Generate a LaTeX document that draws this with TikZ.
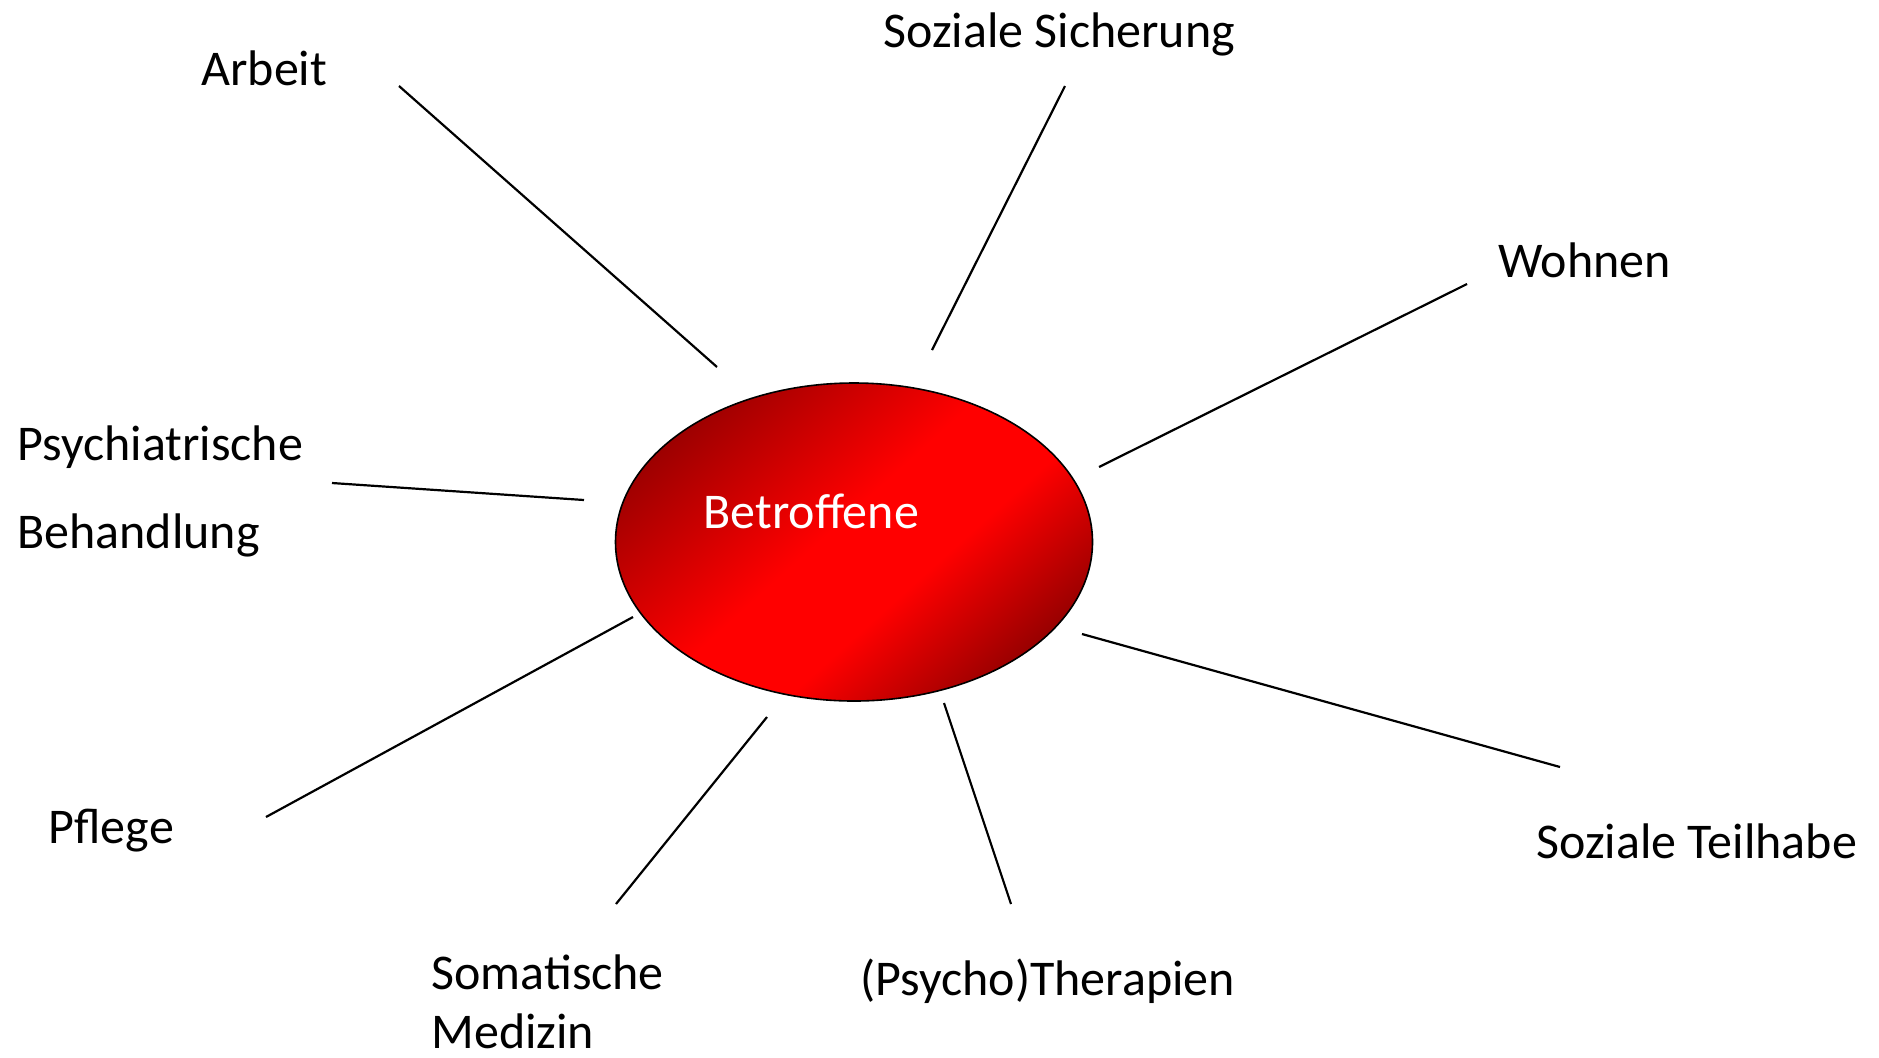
\documentclass[tikz,border=0pt]{standalone}
\usepackage{fontspec}
\setmainfont{Carlito}
\usetikzlibrary{shapes.geometric}
\pgfdeclareverticalshading{kernrot}{100bp}{rgb(0bp)=(0.6,0,0); rgb(25bp)=(0.6,0,0);
  rgb(41bp)=(1,0,0); rgb(53bp)=(1,0,0); rgb(76bp)=(0.6,0,0); rgb(100bp)=(0.6,0,0)}
\tikzset{
  feld/.style={anchor=base west, inner sep=0pt, align=left,
    font=\fontsize{25}{30}\selectfont},
  strahl/.style={line width=1.1pt},
  kern/.style={ellipse, draw=black, line width=0.8pt, inner sep=0pt,
    minimum width=238.5pt, minimum height=159pt,
    shade, shading=kernrot, shading angle=42}
}
\begin{document}
\begin{tikzpicture}[x=0.5pt,y=-0.5pt]
\useasboundingbox (0,0) rectangle (1879,1057);
\node[kern] (betroffene) at (854,542) {};
\node[feld, text=white] (betext) at (703,528) {Betroffene};
\node[feld] (arbeit) at (201,85) {Arbeit};
\node[feld] (sicherung) at (883,47) {Soziale Sicherung};
\node[feld] (wohnen) at (1498,277) {Wohnen};
\node[feld, font=\fontsize{25}{44}\selectfont] (psych) at (17,548) {Psychiatrische\\Behandlung};
\node[feld] (pflege) at (48,843) {Pflege};
\node[feld, font=\fontsize{25}{29.5}\selectfont] (somatik) at (431,1048) {Somatische\\Medizin};
\node[feld] (therapien) at (860,995) {(Psycho)Therapien};
\node[feld] (teilhabe) at (1536,858) {Soziale Teilhabe};
\coordinate (a1) at (399,86);   \coordinate (a2) at (717,367);
\coordinate (s1) at (1065,86);  \coordinate (s2) at (932,350);
\coordinate (w1) at (1467,284); \coordinate (w2) at (1099,467);
\coordinate (b1) at (332,483);  \coordinate (b2) at (584,500);
\coordinate (p1) at (266,817);  \coordinate (p2) at (633,617);
\coordinate (m1) at (616,904);  \coordinate (m2) at (767,717);
\coordinate (t1) at (1011,904); \coordinate (t2) at (944,703);
\coordinate (h1) at (1560,767); \coordinate (h2) at (1082,634);
\draw[strahl] (a1)--(a2);
\draw[strahl] (s1)--(s2);
\draw[strahl] (w1)--(w2);
\draw[strahl] (b1)--(b2);
\draw[strahl] (p1)--(p2);
\draw[strahl] (m1)--(m2);
\draw[strahl] (t1)--(t2);
\draw[strahl] (h1)--(h2);
\end{tikzpicture}
\end{document}
